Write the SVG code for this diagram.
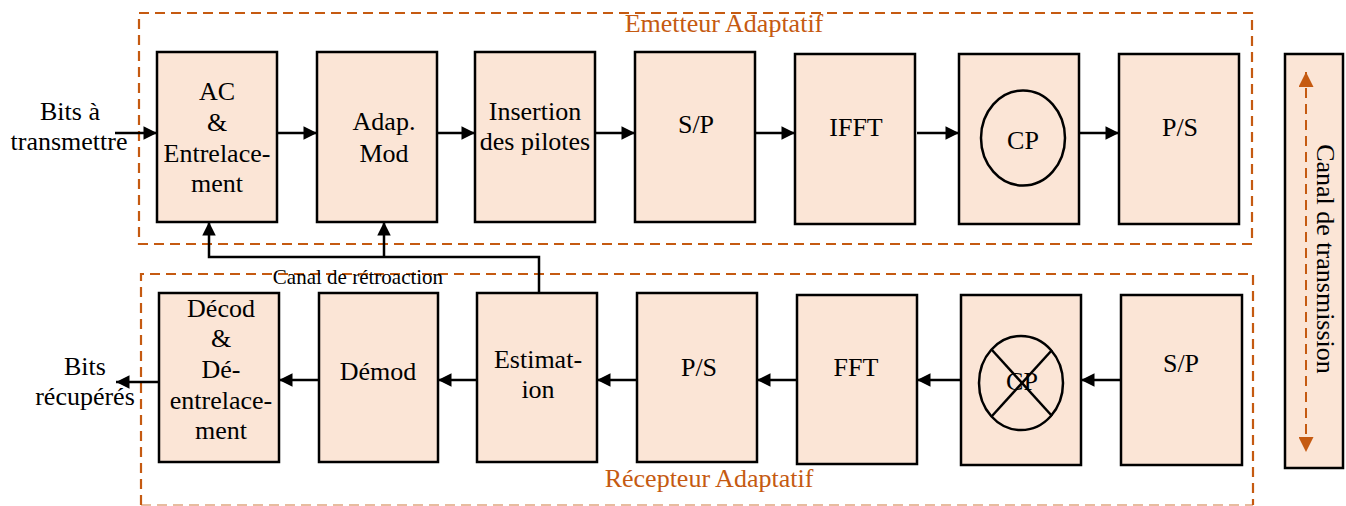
<svg xmlns="http://www.w3.org/2000/svg" xmlns:xlink="http://www.w3.org/1999/xlink" width="1346" height="506" viewBox="0 0 1346 506">
  <style>
    .blk { fill: #FBE5D6; stroke: #000; stroke-width: 2.5; }
    .lbl { font-family: "Liberation Serif", "Times New Roman", serif; font-size: 26px; fill: #000; text-anchor: middle; }
    .io { font-family: "Liberation Serif", "Times New Roman", serif; font-size: 26px; fill: #000; text-anchor: middle; }
    .title { font-family: "Liberation Serif", "Times New Roman", serif; font-size: 26px; fill: #C55A11; text-anchor: middle; }
    .small { font-family: "Liberation Serif", "Times New Roman", serif; font-size: 21px; fill: #000; text-anchor: middle; }
    .frame { fill: none; stroke: #C55A11; stroke-width: 2.2; stroke-dasharray: 10 6; }
    .wire { fill: none; stroke: #000; stroke-width: 2.5; }
    .ring { fill: none; stroke: #000; stroke-width: 2.5; }
  </style>
  <defs>
    <marker id="arr" viewBox="0 0 10 10" refX="10" refY="5" markerWidth="6" markerHeight="5.4" markerUnits="strokeWidth" orient="auto">
      <path d="M0,0 L10,5 L0,10 Z" fill="#000"/>
    </marker>
    <marker id="arrO" viewBox="0 0 10 10" refX="10" refY="5" markerWidth="7.5" markerHeight="7.5" markerUnits="strokeWidth" orient="auto-start-reverse">
      <path d="M0,0 L10,5 L0,10 Z" fill="#C55A11"/>
    </marker>
    <linearGradient id="fadeT" x1="0" y1="0" x2="0" y2="1">
      <stop offset="0" stop-color="#fff" stop-opacity="0.6"/>
      <stop offset="1" stop-color="#fff" stop-opacity="0"/>
    </linearGradient>
    <mask id="mTop" maskUnits="userSpaceOnUse" x="560" y="32" width="330" height="20">
      <rect x="560" y="32" width="330" height="14" fill="url(#fadeT)"/>
    </mask>
    <mask id="mBot" maskUnits="userSpaceOnUse" x="560" y="487" width="330" height="19">
      <rect x="560" y="487" width="330" height="14" fill="url(#fadeT)"/>
    </mask>
  </defs>

  <!-- transmitter / receiver frames -->
  <g id="frames">
    <rect class="frame" x="139" y="13" width="1113" height="231"/>
    <path class="frame" d="M141,505 V274 H1253 V505"/>
    <line x1="141" y1="505" x2="1253" y2="505" stroke="#C55A11" stroke-width="2.2" stroke-dasharray="10 6" opacity="0.4"/>
  </g>

  <g id="titles">
    <text id="tEm" class="title" x="724" y="32">Emetteur Adaptatif</text>
    <use xlink:href="#tEm" transform="translate(0,64) scale(1,-1)" mask="url(#mTop)"/>
    <text id="tRe" class="title" x="709" y="487">Récepteur Adaptatif</text>
    <use xlink:href="#tRe" transform="translate(0,974) scale(1,-1)" mask="url(#mBot)"/>
    <text class="small" x="358" y="284">Canal de rétroaction</text>
  </g>

  <!-- transmitter chain -->
  <g id="ac">
    <rect class="blk" x="157" y="52" width="120" height="170"/>
    <text class="lbl" x="217" y="100">AC</text>
    <text class="lbl" x="217" y="131">&amp;</text>
    <text class="lbl" x="217" y="162">Entrelace-</text>
    <text class="lbl" x="217" y="192">ment</text>
  </g>
  <g id="adapmod">
    <rect class="blk" x="317" y="52" width="120" height="170"/>
    <text class="lbl" x="384" y="130">Adap.</text>
    <text class="lbl" x="384" y="162">Mod</text>
  </g>
  <g id="pilotes">
    <rect class="blk" x="475" y="52" width="120" height="170"/>
    <text class="lbl" x="535" y="120">Insertion</text>
    <text class="lbl" x="535" y="150">des pilotes</text>
  </g>
  <g id="sp1">
    <rect class="blk" x="635" y="52" width="120" height="170"/>
    <text class="lbl" x="696" y="133">S/P</text>
  </g>
  <g id="ifft">
    <rect class="blk" x="795" y="54" width="120" height="170"/>
    <text class="lbl" x="856" y="136">IFFT</text>
  </g>
  <g id="cpadd">
    <rect class="blk" x="959" y="54" width="120" height="170"/>
    <ellipse class="ring" cx="1023" cy="138" rx="42" ry="47.5"/>
    <text class="lbl" x="1023" y="149">CP</text>
  </g>
  <g id="ps1">
    <rect class="blk" x="1119" y="54" width="120" height="170"/>
    <text class="lbl" x="1180" y="136">P/S</text>
  </g>

  <!-- channel -->
  <g id="canal">
    <rect class="blk" x="1285" y="54" width="58" height="414"/>
    <line x1="1306" y1="72" x2="1306" y2="452" stroke="#C55A11" stroke-width="2" stroke-dasharray="10 6" marker-start="url(#arrO)" marker-end="url(#arrO)"/>
    <text class="lbl" transform="translate(1317,259) rotate(90)" x="0" y="0">Canal de transmission</text>
  </g>

  <!-- receiver chain -->
  <g id="decod">
    <rect class="blk" x="159" y="293" width="120" height="169"/>
    <text class="lbl" x="221" y="317">Décod</text>
    <text class="lbl" x="221" y="347">&amp;</text>
    <text class="lbl" x="221" y="378">Dé-</text>
    <text class="lbl" x="221" y="409">entrelace-</text>
    <text class="lbl" x="221" y="439">ment</text>
  </g>
  <g id="demod">
    <rect class="blk" x="319" y="293" width="119" height="169"/>
    <text class="lbl" x="378" y="380">Démod</text>
  </g>
  <g id="estim">
    <rect class="blk" x="477" y="293" width="120" height="169"/>
    <text class="lbl" x="538" y="368">Estimat-</text>
    <text class="lbl" x="538" y="398">ion</text>
  </g>
  <g id="ps2">
    <rect class="blk" x="637" y="293" width="120" height="169"/>
    <text class="lbl" x="699" y="376">P/S</text>
  </g>
  <g id="fft">
    <rect class="blk" x="797" y="295" width="120" height="169"/>
    <text class="lbl" x="856" y="376">FFT</text>
  </g>
  <g id="cprem">
    <rect class="blk" x="961" y="295" width="120" height="170"/>
    <ellipse class="ring" cx="1021" cy="383" rx="42" ry="47"/>
    <line class="ring" x1="992" y1="350" x2="1052" y2="416"/>
    <line class="ring" x1="1052" y1="350" x2="992" y2="416"/>
    <text class="lbl" x="1022" y="390">CP</text>
  </g>
  <g id="sp2">
    <rect class="blk" x="1121" y="295" width="121" height="170"/>
    <text class="lbl" x="1181" y="372">S/P</text>
  </g>

  <!-- input / output labels -->
  <g id="entree">
    <text class="io" x="70" y="120">Bits à</text>
    <text class="io" x="69" y="150">transmettre</text>
  </g>
  <g id="sortie">
    <text class="io" x="85" y="375">Bits</text>
    <text class="io" x="85" y="405">récupérés</text>
  </g>

  <!-- connectors -->
  <g id="connectors">
    <line class="wire" x1="115" y1="133" x2="157" y2="133" marker-end="url(#arr)"/>
    <line class="wire" x1="277" y1="133" x2="317" y2="133" marker-end="url(#arr)"/>
    <line class="wire" x1="437" y1="133" x2="475" y2="133" marker-end="url(#arr)"/>
    <line class="wire" x1="595" y1="133" x2="635" y2="133" marker-end="url(#arr)"/>
    <line class="wire" x1="755" y1="133" x2="795" y2="133" marker-end="url(#arr)"/>
    <line class="wire" x1="917" y1="133" x2="959" y2="133" marker-end="url(#arr)"/>
    <line class="wire" x1="1078" y1="133" x2="1119" y2="133" marker-end="url(#arr)"/>

    <line class="wire" x1="1121" y1="380" x2="1081" y2="380" marker-end="url(#arr)"/>
    <line class="wire" x1="961" y1="380" x2="917" y2="380" marker-end="url(#arr)"/>
    <line class="wire" x1="797" y1="380" x2="757" y2="380" marker-end="url(#arr)"/>
    <line class="wire" x1="637" y1="380" x2="597" y2="380" marker-end="url(#arr)"/>
    <line class="wire" x1="477" y1="380" x2="438" y2="380" marker-end="url(#arr)"/>
    <line class="wire" x1="319" y1="380" x2="279" y2="380" marker-end="url(#arr)"/>
    <line class="wire" x1="159" y1="382" x2="116" y2="382" marker-end="url(#arr)"/>

    <!-- feedback path -->
    <path class="wire" d="M539,293 V257 H209 V222" marker-end="url(#arr)"/>
    <line class="wire" x1="384" y1="257" x2="384" y2="222" marker-end="url(#arr)"/>
  </g>
</svg>
